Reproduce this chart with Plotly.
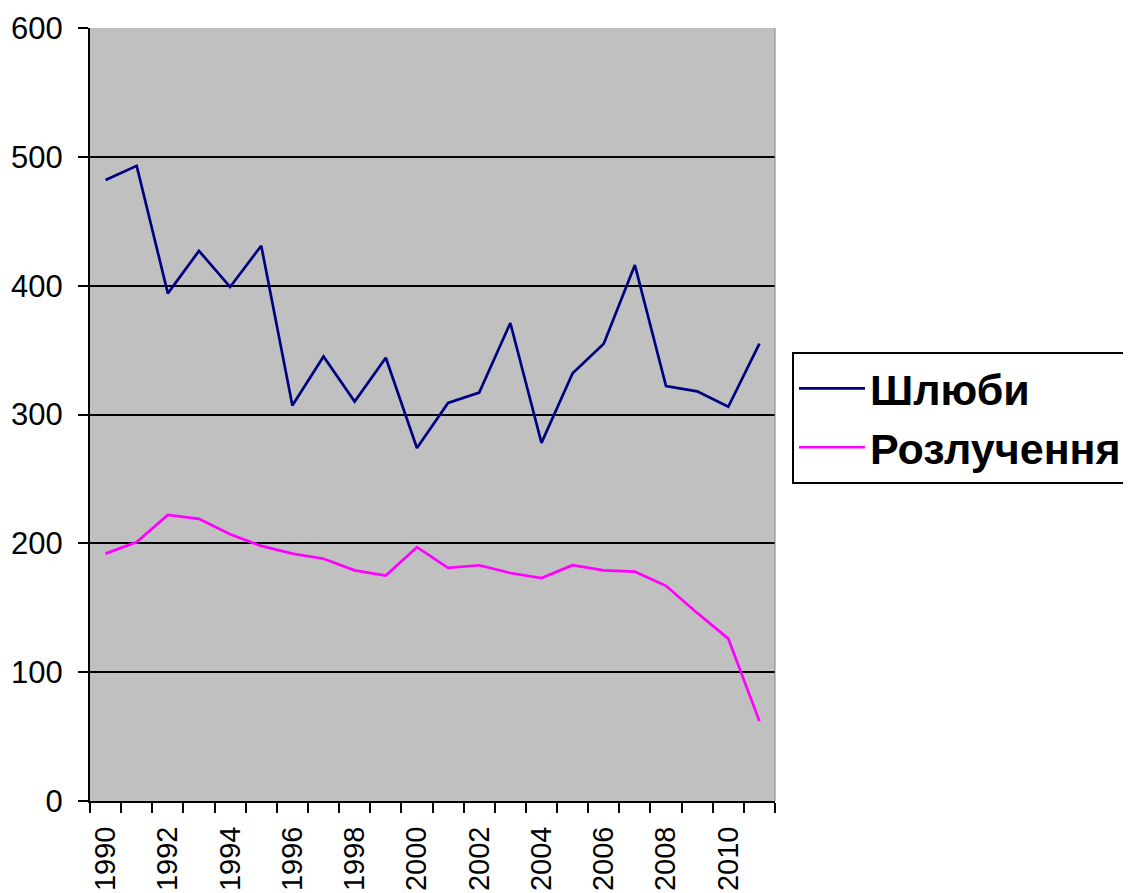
import plotly.graph_objects as go

years = list(range(1990, 2012))
marriages = [482, 493, 394, 427, 399, 431, 307, 345, 310, 344, 274, 309, 317, 371, 278, 332, 355, 416, 322, 318, 306, 355]
divorces = [192, 201, 222, 219, 207, 198, 192, 188, 179, 175, 197, 181, 183, 177, 173, 183, 179, 178, 167, 146, 126, 62]
series_names = ["Шлюби", "Розлучення"]
tick_years = years[::2]

fig = go.Figure()
fig.add_trace(go.Scatter(x=years, y=marriages, mode="lines", name=series_names[0],
                         line=dict(color="#000080", width=2.7)))
fig.add_trace(go.Scatter(x=years, y=divorces, mode="lines", name=series_names[1],
                         line=dict(color="#FF00FF", width=2.7)))

font_family = "Arial, Liberation Sans, sans-serif"

fig.update_layout(
    width=1123, height=885,
    margin=dict(l=82, r=356, t=20, b=92, autoexpand=False),
    paper_bgcolor="white",
    plot_bgcolor="#C0C0C0",
    font=dict(family=font_family, color="black"),
    showlegend=True,
    legend=dict(
        x=1.0248, y=0.581, xanchor="left", yanchor="top",
        bgcolor="white", bordercolor="black", borderwidth=2,
        font=dict(size=43, family=font_family, color="black", weight="bold"),
        itemwidth=66, tracegroupgap=0,
    ),
    xaxis=dict(
        range=[years[0] - 0.5, years[-1] + 0.5],
        tickmode="array", tickvals=tick_years, ticktext=[str(y) for y in tick_years],
        tickangle=-90, tickfont=dict(size=29),
        ticks="outside", ticklen=0, ticklabelstandoff=12,
        minor=dict(tickmode="array", tickvals=[y - 0.5 for y in years] + [years[-1] + 0.5],
                   ticks="outside", ticklen=10, tickwidth=2, tickcolor="black", showgrid=False),
        showgrid=False, zeroline=False, automargin=False,
        showline=True, linecolor="black", linewidth=2,
    ),
    yaxis=dict(
        range=[0, 600], dtick=100, tick0=0,
        tickfont=dict(size=31),
        ticks="outside", ticklen=10, tickwidth=2, tickcolor="black",
        ticklabelstandoff=9,
        showgrid=True, gridcolor="black", gridwidth=2,
        zeroline=False, automargin=False,
        showline=True, linecolor="black", linewidth=2,
    ),
)
fig.add_shape(type="line", xref="paper", yref="paper", x0=1, x1=1, y0=0, y1=1,
              line=dict(color="#808080", width=1))

fig.write_html("out.html")
